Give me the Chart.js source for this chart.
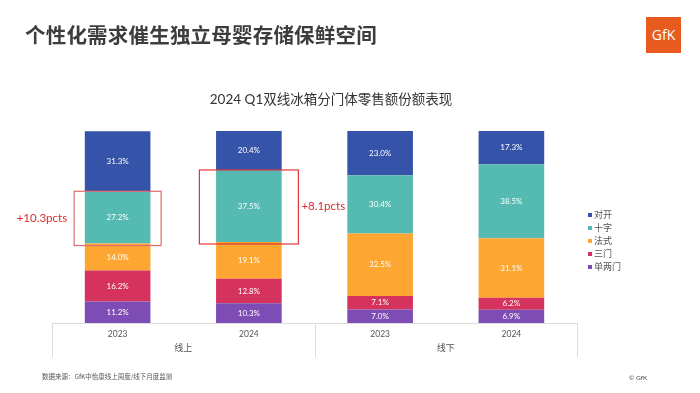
<!DOCTYPE html>
<html>
<head>
<meta charset="utf-8">
<script src="https://cdn.jsdelivr.net/npm/chart.js@4"></script>
<style>
  body { margin: 0; background: #fff; }
  #wrap { position: relative; width: 700px; height: 393px; overflow: hidden; font-family: Lato, "Noto Sans CJK SC", sans-serif; }
  #chart { position: absolute; left: 0; top: 0; }
  #title { position: absolute; left: 25px; top: 19px; font-size: 20.5px; font-weight: bold; color: #3d3d3d; font-family: "Noto Sans CJK SC", sans-serif; letter-spacing: 0.2px; }
  #logo { position: absolute; left: 646px; top: 17px; width: 35px; height: 36px; background: #e75b1e; color: #fff; font-size: 14px; font-family: "Open Sans", sans-serif; line-height: 36px; text-align: center; }
  #source { position: absolute; left: 42px; top: 371px; font-size: 6.5px; color: #555; font-family: "Noto Sans CJK SC", sans-serif; }
  #copy { position: absolute; left: 629px; top: 374px; font-size: 6.5px; color: #444; }
</style>
</head>
<body>
<div id="wrap">
  <canvas id="chart" width="700" height="393"></canvas>
  <div id="title">个性化需求催生独立母婴存储保鲜空间</div>
  <div id="logo">GfK</div>
  <div id="source">数据来源：GfK中怡康线上周度/线下月度监测</div>
  <div id="copy">© GfK</div>
</div>
<script>
// categories: year per bar, channel per pair of bars
const years = ['2023', '2024', '2023', '2024'];
const channels = ['线上', '线下'];

// share (%) per door type, stacked bottom to top
const danLiangMen = [11.2, 10.3, 7.0, 6.9];
const sanMen = [16.2, 12.8, 7.1, 6.2];
const faShi = [14.0, 19.1, 32.5, 31.1];
const shiZi = [27.2, 37.5, 30.4, 38.5];
const duiKai = [31.3, 20.4, 23.0, 17.3];

// highlighted 十字 changes (bar index, text)
const callouts = [
  { index: 0, text: '+10.3pcts' },
  { index: 1, text: '+8.1pcts' },
];

const chartTitle = '2024 Q1双线冰箱分门体零售额份额表现';
const cjk = 'Lato, "Noto Sans CJK SC", sans-serif';

const series = [
  { label: '单两门', data: danLiangMen, color: '#7d4cb4' },
  { label: '三门', data: sanMen, color: '#d5335d' },
  { label: '法式', data: faShi, color: '#fda632' },
  { label: '十字', data: shiZi, color: '#55bab1' },
  { label: '对开', data: duiKai, color: '#3553a8' },
];

// draws labels, group box, callouts and legend on top of the bars
const extras = {
  id: 'extras',
  afterDatasetsDraw(chart) {
    const c = chart.ctx;
    const x = chart.scales.x;
    const area = chart.chartArea;

    // segment values
    c.save();
    c.fillStyle = '#fff';
    c.font = '8px ' + cjk;
    c.textAlign = 'center';
    c.textBaseline = 'middle';
    chart.data.datasets.forEach((ds, di) => {
      chart.getDatasetMeta(di).data.forEach((bar, i) => {
        c.fillText(ds.data[i].toFixed(1) + '%', bar.x, (bar.y + bar.base) / 2);
      });
    });
    c.restore();

    // channel box under the axis
    const left = area.left, right = area.right;
    const mid = (x.getPixelForValue(1) + x.getPixelForValue(2)) / 2;
    const bottom = area.bottom + 34;
    c.save();
    c.strokeStyle = '#dcdcdc';
    c.lineWidth = 1;
    c.beginPath();
    c.moveTo(left, area.bottom + 0.5);
    c.lineTo(right, area.bottom + 0.5);
    [left, mid, right].forEach(px => {
      c.moveTo(Math.round(px) + 0.5, area.bottom);
      c.lineTo(Math.round(px) + 0.5, bottom);
    });
    c.stroke();
    c.fillStyle = '#555';
    c.font = '9px ' + cjk;
    c.textAlign = 'center';
    c.textBaseline = 'middle';
    channels.forEach((ch, k) => {
      const cx = (x.getPixelForValue(k * 2) + x.getPixelForValue(k * 2 + 1)) / 2;
      c.fillText(ch, cx, area.bottom + 25);
    });
    c.restore();

    // red callout boxes around 十字
    const shiMeta = chart.getDatasetMeta(3);
    c.save();
    c.lineWidth = 1.2;
    c.fillStyle = '#d92a2e';
    c.font = '11.5px ' + cjk;
    c.textBaseline = 'middle';
    callouts.forEach((co, k) => {
      const bar = shiMeta.data[co.index];
      const half = k === 0 ? 43.5 : 49.5;
      const bx = bar.x - half, by = bar.y, bw = half * 2, bh = bar.base - bar.y + 2;
      c.strokeStyle = k === 0 ? '#e06a6d' : '#e0343a';
      c.strokeRect(bx, by, bw, bh);
      if (k === 0) {
        c.textAlign = 'right';
        c.fillText(co.text, bx - 7, by + bh / 2);
      } else {
        c.textAlign = 'left';
        c.fillText(co.text, bx + bw + 3, by + bh / 2 - 1);
      }
    });
    c.restore();

    // legend, top item is the top of the stack
    c.save();
    c.font = '9px ' + cjk;
    c.textBaseline = 'middle';
    c.textAlign = 'left';
    const items = chart.data.datasets.slice().reverse();
    items.forEach((ds, k) => {
      const ly = 215 + k * 13;
      c.fillStyle = ds.backgroundColor;
      c.fillRect(588, ly - 2, 4, 4);
      c.fillStyle = '#555';
      c.fillText(ds.label, 594, ly);
    });
    c.restore();

    // chart title
    c.save();
    c.fillStyle = '#333';
    c.font = '13.5px ' + cjk;
    c.textAlign = 'center';
    c.textBaseline = 'middle';
    c.fillText(chartTitle, 331, 100);
    c.restore();
  },
};

new Chart(document.getElementById('chart'), {
  type: 'bar',
  data: {
    labels: years,
    datasets: series.map(s => ({
      label: s.label,
      data: s.data,
      backgroundColor: s.color,
      borderWidth: 0,
      barPercentage: 0.5,
      categoryPercentage: 1,
    })),
  },
  options: {
    responsive: false,
    animation: false,
    layout: { padding: { top: 131, left: 52, right: 123, bottom: 35 } },
    plugins: {
      legend: { display: false },
      title: { display: false },
      tooltip: { enabled: false },
    },
    scales: {
      x: {
        stacked: true,
        grid: { display: false, drawTicks: false },
        border: { display: false },
        ticks: { color: '#555', font: { size: 8.5, family: cjk }, padding: 6 },
        afterFit(scale) { scale.height = 35; },
      },
      y: {
        stacked: true,
        display: false,
        min: 0,
        max: 100,
      },
    },
  },
  plugins: [extras],
});
</script>
</body>
</html>
